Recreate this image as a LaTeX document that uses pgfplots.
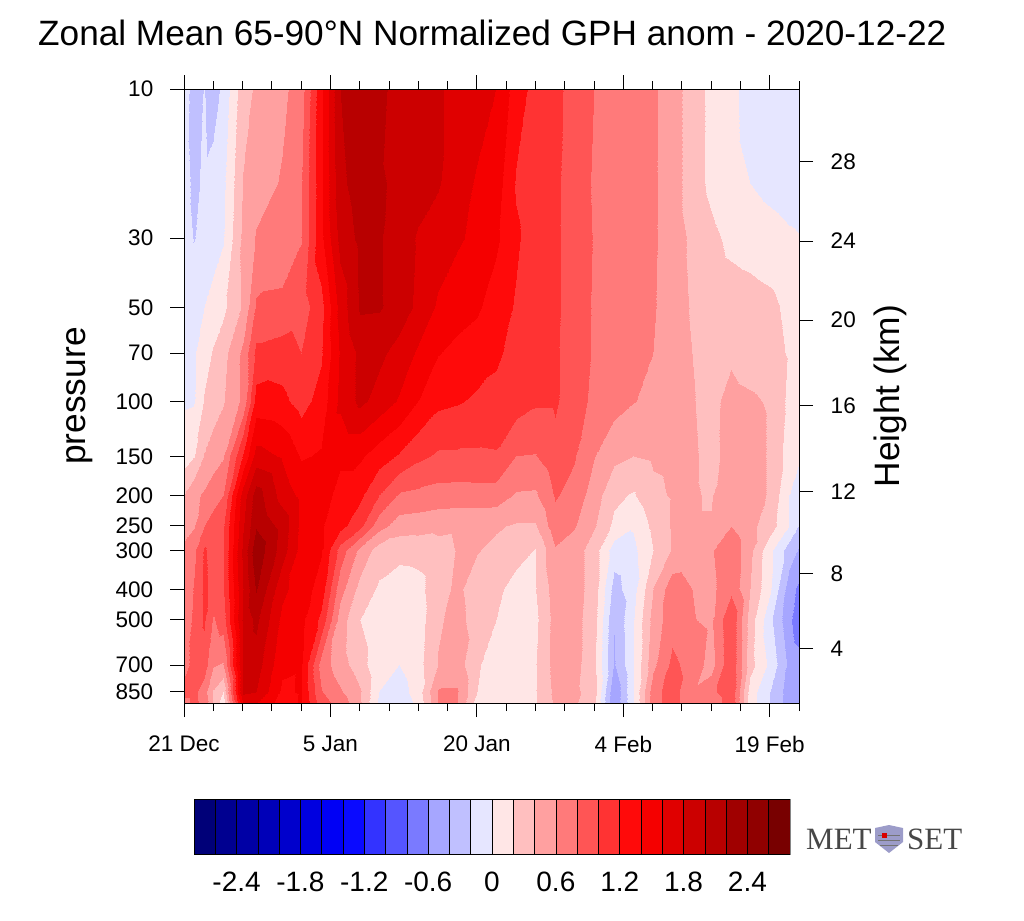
\documentclass[border=0pt]{standalone}
\usepackage{pgfplots}
\pgfplotsset{compat=1.18}
\usepackage{fontspec}
\setmainfont{Liberation Sans}
\newfontfamily\logofont{Liberation Serif}
\newcommand\fs[1]{\fontsize{#1}{#1}\selectfont}
\pgfplotsset{colormap={metset}{
rgb255(0pt)=(0,0,120); rgb255(1pt)=(0,0,144); rgb255(2pt)=(0,0,165); rgb255(3pt)=(0,0,184); rgb255(4pt)=(0,0,204); rgb255(5pt)=(0,0,224); rgb255(6pt)=(0,0,245);
rgb255(7pt)=(10,10,255); rgb255(8pt)=(51,51,255); rgb255(9pt)=(85,85,255); rgb255(10pt)=(122,122,255); rgb255(11pt)=(166,166,255); rgb255(12pt)=(192,192,255); rgb255(13pt)=(230,230,255);
rgb255(14pt)=(255,230,230); rgb255(15pt)=(255,191,191); rgb255(16pt)=(255,160,160); rgb255(17pt)=(255,122,122); rgb255(18pt)=(255,85,85); rgb255(19pt)=(255,51,51); rgb255(20pt)=(255,10,10);
rgb255(21pt)=(245,0,0); rgb255(22pt)=(224,0,0); rgb255(23pt)=(204,0,0); rgb255(24pt)=(184,0,0); rgb255(25pt)=(160,0,0); rgb255(26pt)=(144,0,0); rgb255(27pt)=(120,0,0); rgb255(28pt)=(120,0,0)}}
\newcommand\cb[4]{\addplot[fill={rgb,255:red,#2;green,#3;blue,#4},draw=black,line width=.5pt] coordinates {(#1,0) (#1+1,0) (#1+1,1) (#1,1)} --cycle;}
\begin{document}
\begin{tikzpicture}[x=1pt,y=1pt]
\path[use as bounding box] (0,0) rectangle (1024,-920);
\node[anchor=base west,inner sep=0pt] at (38,-46) {\fs{35.2}Zonal Mean 65-90°N Normalized GPH anom - 2020-12-22};
\begin{axis}[name=main,at={(184pt,-703pt)},anchor=south west,scale only axis,width=615pt,height=614pt,
 xmin=0,xmax=63,ymin=10,ymax=925,ymode=log,y dir=reverse,
 axis on top,tick align=outside,major tick length=14pt,minor tick length=8pt,
 xtick pos=both,ytick pos=left,line width=.8pt,
 xtick={0,15,30,45,60},xticklabels={21 Dec,5 Jan,20 Jan,4 Feb,19 Feb},
 minor xtick={3,6,9,12,18,21,24,27,33,36,39,42,48,51,54,57,63},
 ytick={10,30,50,70,100,150,200,250,300,400,500,700,850},
 yticklabels={10,30,50,70,100,150,200,250,300,400,500,700,850},minor ytick={},
 tick label style={font=\fs{22.5}},xticklabel style={yshift=-15pt},yticklabel style={xshift=-13pt},
 every tick/.style={black,line width=.8pt},
 colormap name=metset,colormap access=piecewise constant,point meta min=-2.8,point meta max=2.8,
 ylabel={pressure},ylabel style={font=\fs{35.3},at={(axis description cs:-0.142,0.5)},anchor=south},
 clip=true]
\addplot[surf,shader=interp,mesh/cols=35,mesh/rows=15,point meta=explicit] table[x=x,y=y,meta=z,row sep=\\]{
x y z\\
0 10 -.1\\1 10 -.3\\2 10 -.19\\3 10 -.3\\4 10 -.15\\6 10 .33\\7.4 10 .43\\10 10 .55\\12 10 .7\\14 10 1.35\\16 10 2.0\\18 10 2.15\\20 10 2.08\\22 10 1.88\\24 10 1.85\\26 10 1.82\\28 10 1.75\\30 10 1.68\\32 10 1.6\\34 10 1.3\\36 10 1.13\\38 10 1.05\\40 10 .93\\42 10 .8\\44 10 .75\\46 10 .7\\48 10 .63\\50 10 .5\\52 10 .3\\54 10 .15\\56 10 .03\\58 10 -.05\\60 10 -.08\\62 10 -.1\\63 10 -.1\\
0 20 -.12\\1 20 -.25\\2 20 -.16\\3 20 -.12\\4 20 -.05\\6 20 .41\\7.4 20 .5\\10 20 .62\\12 20 .78\\14 20 1.35\\16 20 1.95\\18 20 2.1\\20 20 2.03\\22 20 1.95\\24 20 1.88\\26 20 1.82\\28 20 1.68\\30 20 1.58\\32 20 1.5\\34 20 1.18\\36 20 1.1\\38 20 1.04\\40 20 .9\\42 20 .78\\44 20 .74\\46 20 .7\\48 20 .63\\50 20 .5\\52 20 .3\\54 20 .15\\56 20 .04\\58 20 0\\60 20 -.06\\62 20 -.1\\63 20 -.1\\
0 30 -.12\\1 30 -.21\\2 30 -.12\\3 30 -.1\\4 30 -.02\\6 30 .45\\7.4 30 .62\\10 30 .7\\12 30 .79\\14 30 1.35\\16 30 1.87\\18 30 2.05\\20 30 2.02\\22 30 1.9\\24 30 1.78\\26 30 1.7\\28 30 1.63\\30 30 1.55\\32 30 1.44\\34 30 1.23\\36 30 1.1\\38 30 1.04\\40 30 .9\\42 30 .79\\44 30 .74\\46 30 .7\\48 30 .63\\50 30 .5\\52 30 .36\\54 30 .25\\56 30 .15\\58 30 .12\\60 30 .08\\62 30 .03\\63 30 .01\\
0 50 -.05\\1 50 -.03\\2 50 0\\3 50 .08\\4 50 .15\\6 50 .43\\7.4 50 .83\\10 50 .84\\12 50 .9\\14 50 1.13\\16 50 1.68\\18 50 2.03\\20 50 2.02\\22 50 1.92\\24 50 1.75\\26 50 1.57\\28 50 1.48\\30 50 1.43\\32 50 1.3\\34 50 1.18\\36 50 1.1\\38 50 1.04\\40 50 .9\\42 50 .78\\44 50 .73\\46 50 .68\\48 50 .62\\50 50 .5\\52 50 .38\\54 50 .33\\56 50 .3\\58 50 .28\\60 50 .25\\62 50 .15\\63 50 .1\\
0 70 -.05\\1 70 -.02\\2 70 .1\\3 70 .22\\4 70 .33\\6 70 .65\\7.4 70 1.05\\10 70 1.1\\12 70 1.0\\14 70 1.17\\16 70 1.62\\18 70 1.85\\20 70 1.85\\22 70 1.72\\24 70 1.57\\26 70 1.41\\28 70 1.35\\30 70 1.3\\32 70 1.23\\34 70 1.14\\36 70 1.08\\38 70 1.03\\40 70 .9\\42 70 .78\\44 70 .72\\46 70 .66\\48 70 .6\\50 70 .5\\52 70 .4\\54 70 .35\\56 70 .37\\58 70 .3\\60 70 .28\\62 70 .18\\63 70 .12\\
0 100 -.02\\1 100 -.01\\2 100 .22\\3 100 .3\\4 100 .38\\6 100 .65\\7.4 100 1.28\\10 100 1.25\\12 100 1.12\\14 100 1.28\\16 100 1.65\\18 100 1.85\\20 100 1.72\\22 100 1.58\\24 100 1.4\\26 100 1.25\\28 100 1.22\\30 100 1.17\\32 100 1.15\\34 100 1.1\\36 100 1.03\\38 100 1.03\\40 100 .88\\42 100 .76\\44 100 .68\\46 100 .61\\48 100 .55\\50 100 .48\\52 100 .41\\54 100 .35\\56 100 .46\\58 100 .43\\60 100 .38\\62 100 .15\\63 100 .1\\
0 150 .1\\1 150 .19\\2 150 .41\\3 150 .5\\4 150 .58\\6 150 1.22\\7.4 150 1.68\\10 150 1.58\\12 150 1.38\\14 150 1.42\\16 150 1.43\\18 150 1.43\\20 150 1.3\\22 150 1.18\\24 150 1.05\\26 150 .97\\28 150 .97\\30 150 .97\\32 150 .98\\34 150 .8\\36 150 .79\\38 150 .93\\40 150 .82\\42 150 .61\\44 150 .45\\46 150 .4\\48 150 .43\\50 150 .45\\52 150 .42\\54 150 .36\\56 150 .45\\58 150 .48\\60 150 .38\\62 150 .1\\63 150 .02\\
0 200 .41\\1 200 .55\\2 200 .63\\3 200 .72\\4 200 .8\\6 200 1.7\\7.4 200 2.1\\10 200 1.72\\12 200 1.55\\14 200 1.47\\16 200 1.35\\18 200 1.25\\20 200 1.0\\22 200 .78\\24 200 .75\\26 200 .72\\28 200 .71\\30 200 .72\\32 200 .71\\34 200 .58\\36 200 .57\\38 200 .82\\40 200 .73\\42 200 .5\\44 200 .25\\46 200 .18\\48 200 .35\\50 200 .42\\52 200 .42\\54 200 .38\\56 200 .6\\58 200 .48\\60 200 .38\\62 200 0\\63 200 -.08\\
0 250 .42\\1 250 .58\\2 250 .8\\3 250 .88\\4 250 .96\\6 250 1.78\\7.4 250 2.18\\10 250 1.93\\12 250 1.55\\14 250 1.42\\16 250 1.27\\18 250 1.05\\20 250 .68\\22 250 .5\\24 250 .48\\26 250 .45\\28 250 .43\\30 250 .43\\32 250 .42\\34 250 .38\\36 250 .38\\38 250 .72\\40 250 .62\\42 250 .42\\44 250 .15\\46 250 .02\\48 250 .25\\50 250 .42\\52 250 .42\\54 250 .42\\56 250 .6\\58 250 .45\\60 250 .3\\62 250 0\\63 250 -.22\\
0 300 .7\\1 300 .75\\2 300 1.02\\3 300 .95\\4 300 .98\\6 300 1.85\\7.4 300 2.35\\10 300 1.9\\12 300 1.52\\14 300 1.42\\16 300 .92\\18 300 .55\\20 300 .3\\22 300 .26\\24 300 .27\\26 300 .33\\28 300 .41\\30 300 .41\\32 300 .36\\34 300 .3\\36 300 .19\\38 300 .58\\40 300 .5\\42 300 .3\\44 300 -.1\\46 300 -.05\\48 300 .2\\50 300 .42\\52 300 .45\\54 300 .58\\56 300 .75\\58 300 .45\\60 300 .05\\62 300 -.3\\63 300 -.42\\
0 400 .65\\1 400 .82\\2 400 1.03\\3 400 .95\\4 400 .98\\6 400 1.8\\7.4 400 2.22\\10 400 1.65\\12 400 1.5\\14 400 1.32\\16 400 .68\\18 400 .33\\20 400 .17\\22 400 .1\\24 400 .13\\26 400 .34\\28 400 .43\\30 400 .33\\32 400 .26\\34 400 .1\\36 400 .19\\38 400 .5\\40 400 .5\\42 400 .3\\44 400 -.28\\46 400 -.08\\48 400 .4\\50 400 .72\\52 400 .6\\54 400 .55\\56 400 .75\\58 400 .4\\60 400 .03\\62 400 -.5\\63 400 -.65\\
0 500 .65\\1 500 .85\\2 500 1.03\\3 500 .78\\4 500 .9\\6 500 1.85\\7.4 500 2.05\\10 500 1.55\\12 500 1.45\\14 500 1.15\\16 500 .5\\18 500 .2\\20 500 .05\\22 500 .08\\24 500 .1\\26 500 .38\\28 500 .45\\30 500 .33\\32 500 .2\\34 500 .08\\36 500 .15\\38 500 .48\\40 500 .48\\42 500 .28\\44 500 -.39\\46 500 -.02\\48 500 .48\\50 500 .72\\52 500 .61\\54 500 .57\\56 500 .98\\58 500 .3\\60 500 -.15\\62 500 -.55\\63 500 -.75\\
0 700 .75\\1 700 .85\\2 700 .9\\3 700 .62\\4 700 .58\\6 700 1.85\\7.4 700 1.9\\10 700 1.45\\12 700 1.42\\14 700 .72\\16 700 .48\\18 700 .3\\20 700 .03\\22 700 0\\24 700 .13\\26 700 .41\\28 700 .5\\30 700 .22\\32 700 .12\\34 700 .08\\36 700 .18\\38 700 .48\\40 700 .48\\42 700 .25\\44 700 -.42\\46 700 -.02\\48 700 .55\\50 700 .85\\52 700 .72\\54 700 .52\\56 700 .98\\58 700 .28\\60 700 -.05\\62 700 -.45\\63 700 -.5\\
0 850 .85\\1 850 .85\\2 850 .7\\3 850 .38\\4 850 .2\\6 850 1.85\\7.4 850 1.8\\10 850 1.36\\12 850 1.42\\14 850 .82\\16 850 .63\\18 850 .42\\20 850 0\\22 850 -.1\\24 850 .1\\26 850 .62\\28 850 .62\\30 850 .2\\32 850 .1\\34 850 .08\\36 850 .18\\38 850 .45\\40 850 .45\\42 850 .3\\44 850 -.58\\46 850 -.02\\48 850 .72\\50 850 .9\\52 850 .63\\54 850 .73\\56 850 .98\\58 850 .1\\60 850 -.2\\62 850 -.5\\63 850 -.5\\
0 925 .75\\1 925 .85\\2 925 .75\\3 925 .4\\4 925 .05\\6 925 1.6\\7.4 925 1.62\\10 925 1.3\\12 925 1.42\\14 925 .9\\16 925 .72\\18 925 .42\\20 925 -.05\\22 925 -.15\\24 925 .05\\26 925 .61\\28 925 .61\\30 925 .1\\32 925 .1\\34 925 .08\\36 925 .18\\38 925 .43\\40 925 .43\\42 925 .25\\44 925 -.58\\46 925 -.03\\48 925 .72\\50 925 .9\\52 925 .63\\54 925 .6\\56 925 .98\\58 925 .1\\60 925 -.2\\62 925 -.5\\63 925 -.5\\
};
\end{axis}
\begin{axis}[at={(184pt,-703pt)},anchor=south west,scale only axis,width=615pt,height=614pt,
 xmin=0,xmax=63,ymin=10,ymax=925,ymode=log,y dir=reverse,
 axis x line=none,axis y line*=right,tick align=outside,major tick length=14pt,line width=.8pt,
 ytick={17.1,30.7,55,103,194,356,619},yticklabels={28,24,20,16,12,8,4},minor ytick={},
 tick label style={font=\fs{22.5}},every tick/.style={black,line width=.8pt},
 yticklabel style={xshift=14pt},
 ylabel={Height (km)},ylabel style={font=\fs{35.3},at={(axis description cs:1.116,0.5)},anchor=north,rotate=0}]
\addplot[draw=none] coordinates {(0,10) (63,925)};
\end{axis}
\begin{axis}[at={(194pt,-854pt)},anchor=south west,scale only axis,width=596pt,height=55pt,
 xmin=-14,xmax=14,ymin=0,ymax=1,axis line style={draw=black!40,line width=.6pt},
 xtick={-12,-9,-6,-3,0,3,6,9,12},xticklabels={-2.4,-1.8,-1.2,-0.6,0,0.6,1.2,1.8,2.4},
 ytick=\empty,major tick length=0pt,tick label style={font=\fs{28}},
 xticklabel style={yshift=-14pt},axis on top=false]
\cb{-14}{0}{0}{120}\cb{-13}{0}{0}{144}\cb{-12}{0}{0}{165}\cb{-11}{0}{0}{184}\cb{-10}{0}{0}{204}\cb{-9}{0}{0}{224}\cb{-8}{0}{0}{245}
\cb{-7}{10}{10}{255}\cb{-6}{51}{51}{255}\cb{-5}{85}{85}{255}\cb{-4}{122}{122}{255}\cb{-3}{166}{166}{255}\cb{-2}{192}{192}{255}\cb{-1}{230}{230}{255}
\cb{0}{255}{230}{230}\cb{1}{255}{191}{191}\cb{2}{255}{160}{160}\cb{3}{255}{122}{122}\cb{4}{255}{85}{85}\cb{5}{255}{51}{51}\cb{6}{255}{10}{10}
\cb{7}{245}{0}{0}\cb{8}{224}{0}{0}\cb{9}{204}{0}{0}\cb{10}{184}{0}{0}\cb{11}{160}{0}{0}\cb{12}{144}{0}{0}\cb{13}{120}{0}{0}
\end{axis}
\node[anchor=base west,inner sep=0pt,text=black!72] at (806,-849) {\logofont\fs{31}MET};
\node[anchor=base west,inner sep=0pt,text=black!72] at (907,-849) {\logofont\fs{31}SET};
\fill[blue!30!gray!60!white] (875,-828) -- (889,-825) -- (903,-828) -- (903,-842) -- (889,-853) -- (875,-842) -- cycle;
\draw[black!55,line width=.8pt] (878,-835) -- (900,-835) (878,-840) -- (900,-840) (880,-845) -- (898,-845);
\fill[red!85!black] (882,-833) rectangle (887,-838);
\end{tikzpicture}
\end{document}
